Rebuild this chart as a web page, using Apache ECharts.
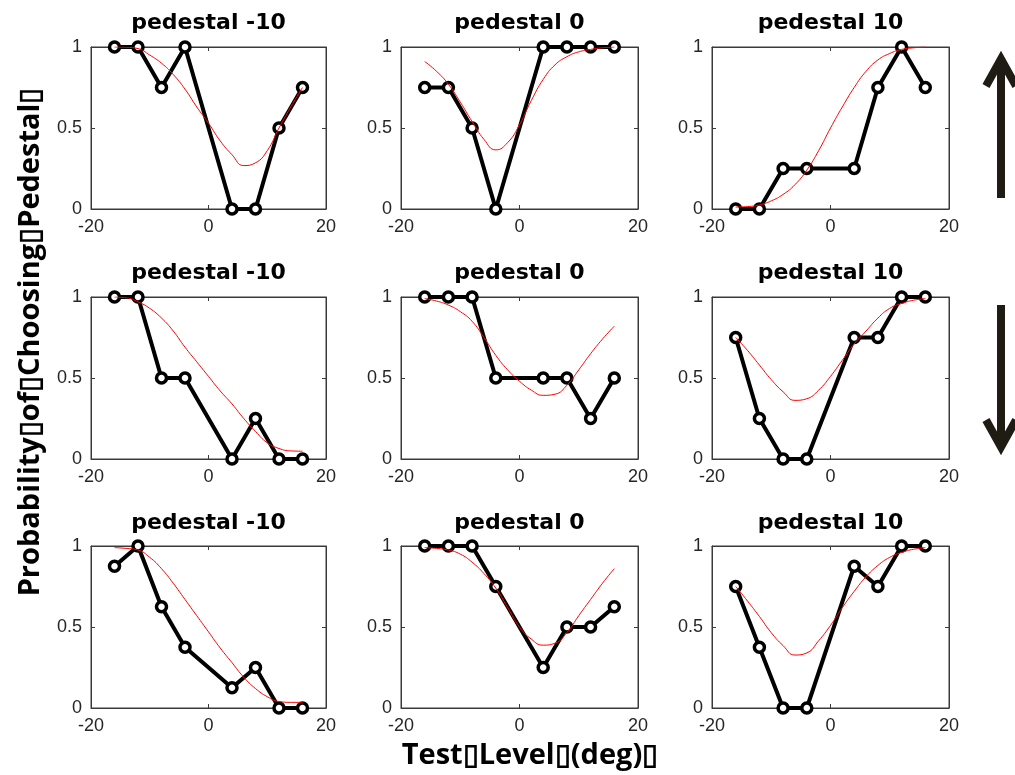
<!DOCTYPE html>
<html>
<head>
<meta charset="utf-8">
<script src="https://cdn.jsdelivr.net/npm/echarts@6/dist/echarts.min.js"></script>
<style>
  html, body { margin: 0; padding: 0; background: #fff; }
  #chart { width: 1015px; height: 775px; }
</style>
</head>
<body>
<div id="chart"></div>
<script>
// Test levels (deg) where choices were measured
const levels = [-16, -12, -8, -4, 4, 8, 12, 16];
// Abscissa of the fitted curves
const fitLevels = [-16, -14, -12, -10, -8, -6, -4, -2, 0, 2, 4, 6, 8, 10, 12, 14, 16];

const panelTitles = ['pedestal -10', 'pedestal 0', 'pedestal 10'];
const xTicks = [-20, 0, 20];
const yTicks = [0, 0.5, 1];

// Observed proportions, rows top to bottom, pedestal -10 / 0 / 10
const obsR1M10 = [1, 1, 0.75, 1, 0, 0, 0.5, 0.75];
const obsR1P0  = [0.75, 0.75, 0.5, 0, 1, 1, 1, 1];
const obsR1P10 = [0, 0, 0.25, 0.25, 0.25, 0.75, 1, 0.75];
const obsR2M10 = [1, 1, 0.5, 0.5, 0, 0.25, 0, 0];
const obsR2P0  = [1, 1, 1, 0.5, 0.5, 0.5, 0.25, 0.5];
const obsR2P10 = [0.75, 0.25, 0, 0, 0.75, 0.75, 1, 1];
const obsR3M10 = [0.875, 1, 0.625, 0.375, 0.125, 0.25, 0, 0];
const obsR3P0  = [1, 1, 1, 0.75, 0.25, 0.5, 0.5, 0.625];
const obsR3P10 = [0.75, 0.375, 0, 0, 0.875, 0.75, 1, 1];

// Fitted psychometric curves sampled at fitLevels
const fitR1M10 = [1.0, 0.998, 0.99, 0.95, 0.90, 0.83, 0.74, 0.63, 0.53, 0.42, 0.335, 0.268, 0.285, 0.36, 0.50, 0.63, 0.75];
const fitR1P0  = [0.91, 0.85, 0.77, 0.66, 0.54, 0.43, 0.365, 0.41, 0.52, 0.67, 0.80, 0.89, 0.94, 0.97, 0.985, 0.995, 1.0];
const fitR1P10 = [0.012, 0.015, 0.025, 0.05, 0.09, 0.15, 0.24, 0.36, 0.50, 0.63, 0.75, 0.85, 0.92, 0.96, 0.985, 0.995, 1.0];
const fitR2M10 = [1.0, 0.995, 0.97, 0.93, 0.87, 0.79, 0.69, 0.60, 0.51, 0.42, 0.34, 0.25, 0.17, 0.10, 0.065, 0.05, 0.048];
const fitR2P0  = [0.99, 0.975, 0.95, 0.91, 0.85, 0.75, 0.64, 0.55, 0.48, 0.425, 0.393, 0.40, 0.455, 0.55, 0.65, 0.74, 0.82];
const fitR2P10 = [0.75, 0.67, 0.58, 0.49, 0.415, 0.362, 0.372, 0.425, 0.51, 0.61, 0.71, 0.79, 0.87, 0.93, 0.96, 0.98, 0.99];
const fitR3M10 = [0.99, 0.985, 0.975, 0.93, 0.86, 0.77, 0.67, 0.57, 0.47, 0.37, 0.28, 0.19, 0.12, 0.07, 0.04, 0.035, 0.035];
const fitR3P0  = [0.99, 0.985, 0.975, 0.95, 0.90, 0.83, 0.74, 0.62, 0.50, 0.425, 0.388, 0.40, 0.465, 0.57, 0.67, 0.77, 0.86];
const fitR3P10 = [0.75, 0.66, 0.565, 0.465, 0.385, 0.327, 0.34, 0.415, 0.51, 0.62, 0.72, 0.81, 0.88, 0.93, 0.96, 0.98, 0.99];

const observed = [obsR1M10, obsR1P0, obsR1P10, obsR2M10, obsR2P0, obsR2P10, obsR3M10, obsR3P0, obsR3P10];
const fitted   = [fitR1M10, fitR1P0, fitR1P10, fitR2M10, fitR2P0, fitR2P10, fitR3M10, fitR3P0, fitR3P10];

// Panel geometry
const colLeft = [91, 401, 712];
const colWidth = [235, 237, 237];
const rowTop = [47, 297, 546];
const rowHeight = 162;
const titleY = [23, 273, 523];

const axisColor = '#262626';
const boxColor = '#3a3a3a';
const tickFont = { fontFamily: 'Liberation Sans', fontSize: 18, color: axisColor };

const grids = [], xAxes = [], yAxes = [], series = [], graphics = [];

for (let r = 0; r < 3; r++) {
  for (let c = 0; c < 3; c++) {
    const i = r * 3 + c;
    grids.push({
      left: colLeft[c], top: rowTop[r], width: colWidth[c], height: rowHeight,
      show: true, borderColor: boxColor, borderWidth: 1, backgroundColor: '#fff'
    });
    const xBase = {
      type: 'value', gridIndex: i, min: xTicks[0], max: xTicks[2], interval: 20,
      splitLine: { show: false },
      axisLine: { show: true, onZero: false, lineStyle: { color: boxColor, width: 1 } },
      axisTick: { show: true, inside: true, length: 4, lineStyle: { color: boxColor } }
    };
    xAxes.push(Object.assign({}, xBase, {
      position: 'bottom',
      axisLabel: Object.assign({ show: true, margin: 9 }, tickFont)
    }));
    xAxes.push(Object.assign({}, xBase, { position: 'top', axisLabel: { show: false } }));
    const yBase = {
      type: 'value', gridIndex: i, min: yTicks[0], max: yTicks[2], interval: 0.5,
      splitLine: { show: false },
      axisLine: { show: true, onZero: false, lineStyle: { color: boxColor, width: 1 } },
      axisTick: { show: true, inside: true, length: 4, lineStyle: { color: boxColor } }
    };
    yAxes.push(Object.assign({}, yBase, {
      position: 'left',
      axisLabel: Object.assign({ show: true, margin: 9 }, tickFont)
    }));
    yAxes.push(Object.assign({}, yBase, { position: 'right', axisLabel: { show: false } }));

    series.push({
      type: 'line', xAxisIndex: 2 * i, yAxisIndex: 2 * i,
      data: levels.map((x, k) => [x, observed[i][k]]),
      symbol: 'circle', symbolSize: 10,
      itemStyle: { color: '#fff', borderColor: '#000', borderWidth: 3.5 },
      lineStyle: { color: '#000', width: 4 },
      z: 3, animation: false
    });
    series.push({
      type: 'line', xAxisIndex: 2 * i, yAxisIndex: 2 * i,
      data: fitLevels.map((x, k) => [x, fitted[i][k]]),
      smooth: 0.5, showSymbol: false,
      lineStyle: { color: '#ff0000', width: 1 },
      z: 4, animation: false
    });

    graphics.push({
      type: 'text', x: colLeft[c] + colWidth[c] / 2, y: titleY[r],
      style: {
        text: panelTitles[c], fontFamily: 'DejaVu Sans', fontWeight: 'bold', fontSize: 22,
        fill: '#000', textAlign: 'center', textVerticalAlign: 'middle'
      }
    });
  }
}

// Axis titles
graphics.push({
  type: 'text', x: 530, y: 756,
  style: {
    text: 'Test\u25AFLevel\u25AF(deg)\u25AF', fontFamily: 'Open Sans', fontWeight: 'bold', fontSize: 29,
    fill: '#000', textAlign: 'center', textVerticalAlign: 'middle'
  }
});
graphics.push({
  type: 'text', x: 31, y: 342, rotation: Math.PI / 2,
  style: {
    text: 'Probability\u25AFof\u25AFChoosing\u25AFPedestal\u25AF', fontFamily: 'Open Sans', fontWeight: 'bold', fontSize: 29,
    fill: '#000', textAlign: 'center', textVerticalAlign: 'middle'
  }
});

// Direction arrows beside the first two rows
const arrowStyle = { stroke: '#1f1c14', lineWidth: 8, lineCap: 'butt', lineJoin: 'miter', fill: null };
graphics.push({ type: 'line', shape: { x1: 1001, y1: 198, x2: 1001, y2: 60 }, style: arrowStyle });
graphics.push({ type: 'polyline', shape: { points: [[986, 86], [1001, 59], [1016, 86]] }, style: arrowStyle });
graphics.push({ type: 'line', shape: { x1: 1001, y1: 305, x2: 1001, y2: 446 }, style: arrowStyle });
graphics.push({ type: 'polyline', shape: { points: [[986, 420], [1001, 447], [1016, 420]] }, style: arrowStyle });

const chart = echarts.init(document.getElementById('chart'), null, { renderer: 'canvas' });
chart.setOption({
  animation: false,
  backgroundColor: '#fff',
  grid: grids,
  xAxis: xAxes,
  yAxis: yAxes,
  series: series,
  graphic: graphics
});
</script>
</body>
</html>
